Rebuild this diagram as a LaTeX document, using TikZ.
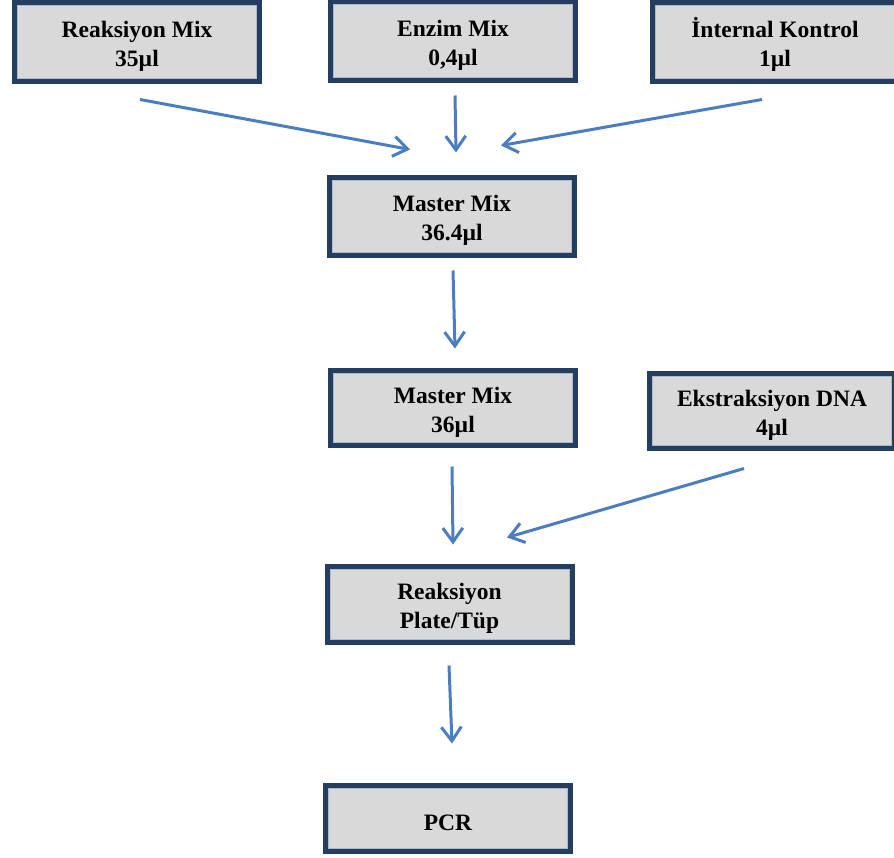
\documentclass[tikz,border=0pt]{standalone}
\usepackage{fontspec}
\setmainfont{Liberation Serif}
\usepackage{xcolor}
\usepackage{tikz}
\usetikzlibrary{arrows.meta}
\definecolor{boxnavy}{RGB}{36,62,98}
\definecolor{boxgray}{RGB}{217,217,217}
\definecolor{boxedge}{RGB}{175,185,200}
\definecolor{arrowblue}{RGB}{74,126,193}
\newcommand{\boxstrut}{\rule{0pt}{24pt}}

\begin{document}
\begin{tikzpicture}[
  mixbox/.style={rectangle, draw=boxnavy, line width=5pt, fill=boxgray,
    minimum width=245pt, minimum height=79pt, align=center, inner sep=0pt,
    font=\fontsize{23.5}{29}\selectfont\bfseries,
    path picture={\draw[boxedge, line width=1pt]
      ([shift={(3pt,3pt)}]path picture bounding box.south west) rectangle
      ([shift={(-3pt,-3pt)}]path picture bounding box.north east);}},
  arr/.style={-{Straight Barb[length=14pt,width=20pt]}, line width=3pt, draw=arrowblue}
]
\useasboundingbox (0pt,0pt) rectangle (894pt,-857pt);

% top row
\node[mixbox] (rmix) at (137pt,-42pt) {\boxstrut Reaksiyon Mix\\35µl};
\node[mixbox] (enzim) at (453pt,-41pt) {\boxstrut Enzim Mix\\0,4µl};
\node[mixbox] (ikontrol) at (775pt,-42pt) {\boxstrut İnternal Kontrol\\1µl};

% middle column
\node[mixbox, minimum height=78pt] (mm1) at (452pt,-216.5pt) {\boxstrut Master Mix\\36.4µl};
\node[mixbox, minimum height=75pt] (mm2) at (453pt,-408pt) {\boxstrut Master Mix\\36µl};
\node[mixbox, minimum height=75pt] (ekstr) at (772pt,-411pt) {\boxstrut Ekstraksiyon DNA\\4µl};
\node[mixbox, minimum height=76pt] (plate) at (449.5pt,-604.5pt) {\boxstrut Reaksiyon\\Plate/Tüp};
\node[mixbox, minimum height=66pt] (pcr) at (448pt,-818.5pt) {\boxstrut PCR};

\draw[arr] ([xshift=3pt,yshift=-15.5pt]rmix.south) -- ([xshift=-42pt,yshift=25.5pt]mm1.north);
\draw[arr] ([xshift=2pt,yshift=-12.5pt]enzim.south) -- ([xshift=4pt,yshift=22.5pt]mm1.north);
\draw[arr] ([xshift=-13pt,yshift=-15.5pt]ikontrol.south) -- ([xshift=49pt,yshift=29.5pt]mm1.north);
\draw[arr] ([xshift=1pt,yshift=-12.5pt]mm1.south) -- ([xshift=2pt,yshift=19.5pt]mm2.north);
\draw[arr] ([xshift=-1pt,yshift=-18.5pt]mm2.south) -- ([xshift=3.5pt,yshift=19.5pt]plate.north);
\draw[arr] ([xshift=-28pt,yshift=-17.5pt]ekstr.south) -- ([xshift=57.5pt,yshift=26.5pt]plate.north);
\draw[arr] ([xshift=-0.5pt,yshift=-20.5pt]plate.south) -- ([xshift=4pt,yshift=39.5pt]pcr.north);
\end{tikzpicture}
\end{document}
